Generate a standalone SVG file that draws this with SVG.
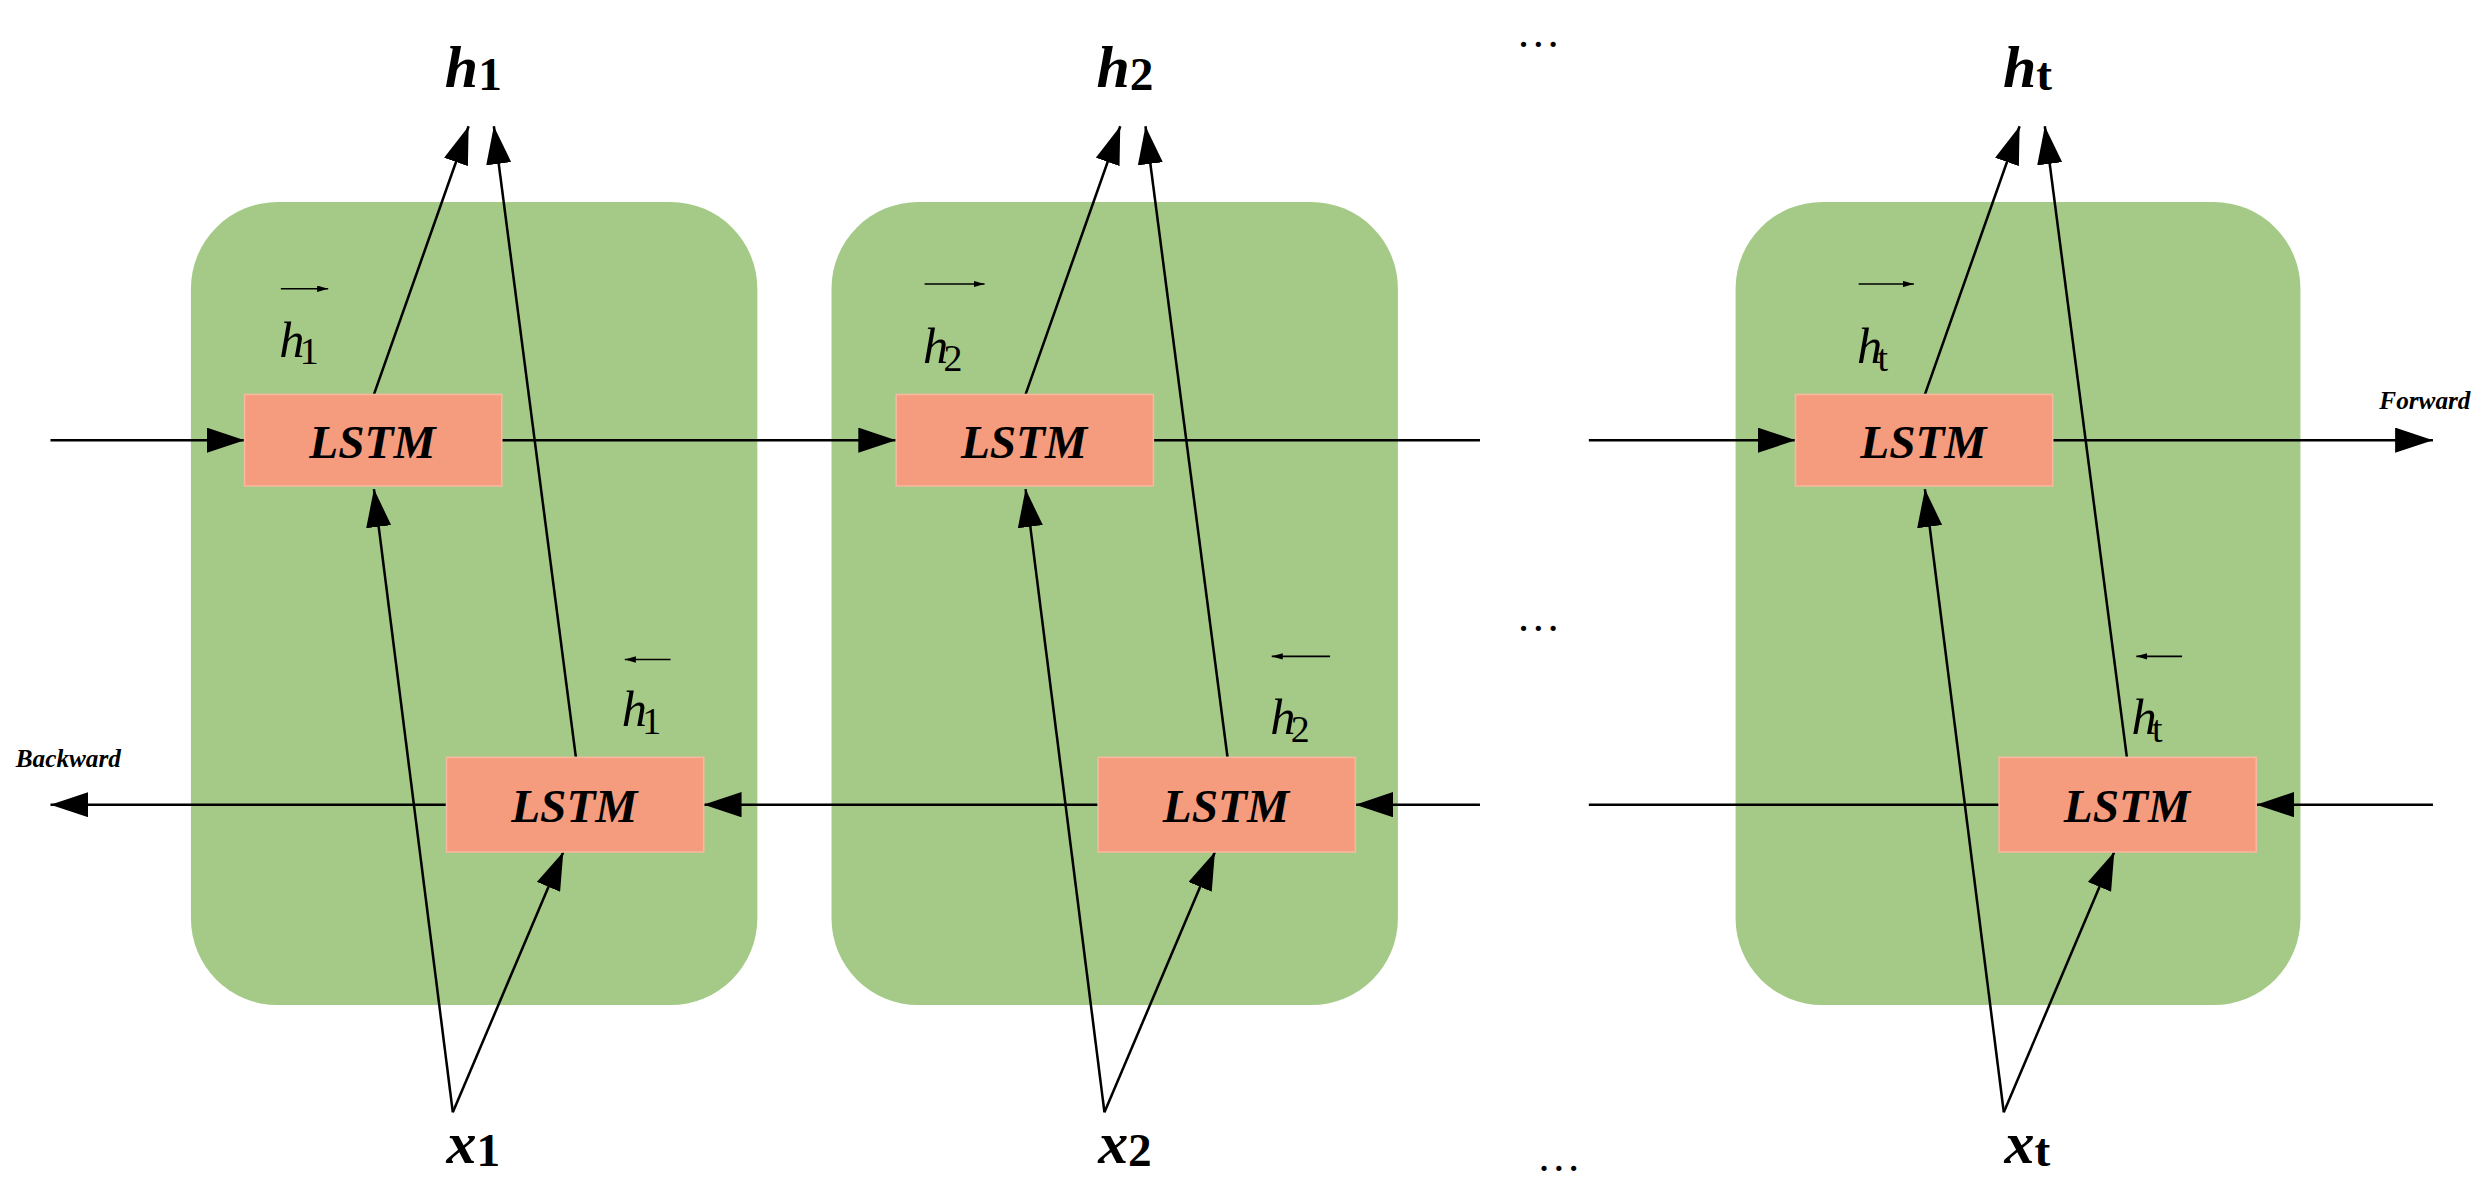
<svg xmlns="http://www.w3.org/2000/svg" width="2474" height="1185" viewBox="0 0 2474 1185">
<defs>
<marker id="ah" markerUnits="userSpaceOnUse" markerWidth="24" markerHeight="16" viewBox="0 0 24 16" refX="24" refY="8" orient="auto"><path d="M0,0 L24,8 L0,16 Z" fill="#000"/></marker>
<marker id="sah" markerUnits="userSpaceOnUse" markerWidth="7" markerHeight="4" viewBox="0 0 7 4" refX="7" refY="2" orient="auto"><path d="M0,0 L7,2 L0,4 Z" fill="#000"/></marker>
<style>
.cell{fill:#a5ca87}
.lstm{fill:#f59c7e;stroke:#f7b7a0;stroke-width:1}
.lt{font-family:"Liberation Serif",serif;font-weight:bold;font-style:italic;font-size:30px;text-anchor:middle}
.big{font-family:"Liberation Serif",serif;font-weight:bold;font-style:italic;font-size:38px;text-anchor:middle}
.sub{font-family:"Liberation Serif",serif;font-weight:bold;font-style:normal;font-size:30px}
.hl{font-family:"Liberation Serif",serif;font-style:italic;font-size:32px}
.hs{font-family:"Liberation Serif",serif;font-style:normal;font-size:24px}
.sm{font-family:"Liberation Serif",serif;font-weight:bold;font-style:italic;font-size:16px}
.dots{font-family:"Liberation Serif",serif;font-size:28px;text-anchor:middle}
.ln{stroke:#000;stroke-width:1.6;fill:none}
.a{marker-end:url(#ah)}
.sl{stroke:#000;stroke-width:1;marker-end:url(#sah)}
</style>
</defs>
<rect width="2474" height="1185" fill="#fff"/>
<g transform="scale(1.5778)">
<g id="cells">
<rect class="cell" x="121" y="128" width="359" height="509" rx="55"/>
<rect class="cell" x="527" y="128" width="359" height="509" rx="55"/>
<rect class="cell" x="1100" y="128" width="358" height="509" rx="55"/>
</g>
<g id="connectors">
<line class="ln a" x1="32" y1="279" x2="155" y2="279"/>
<line class="ln a" x1="318" y1="279" x2="568" y2="279"/>
<line class="ln" x1="731" y1="279" x2="938" y2="279"/>
<line class="ln a" x1="1007" y1="279" x2="1138" y2="279"/>
<line class="ln a" x1="1301" y1="279" x2="1542" y2="279"/>
<line class="ln a" x1="283" y1="510" x2="32" y2="510"/>
<line class="ln a" x1="696" y1="510" x2="446" y2="510"/>
<line class="ln a" x1="938" y1="510" x2="859" y2="510"/>
<line class="ln" x1="1267" y1="510" x2="1007" y2="510"/>
<line class="ln a" x1="1542" y1="510" x2="1430" y2="510"/>
<g id="c1">
<line class="ln a" x1="237" y1="250" x2="297" y2="80"/>
<line class="ln a" x1="365" y1="480" x2="313" y2="80"/>
<line class="ln a" x1="287" y1="705" x2="237" y2="310"/>
<line class="ln a" x1="287" y1="705" x2="357" y2="540"/>
</g>
<g id="c2">
<line class="ln a" x1="650" y1="250" x2="710" y2="80"/>
<line class="ln a" x1="778" y1="480" x2="726" y2="80"/>
<line class="ln a" x1="700" y1="705" x2="650" y2="310"/>
<line class="ln a" x1="700" y1="705" x2="770" y2="540"/>
</g>
<g id="c3">
<line class="ln a" x1="1220" y1="250" x2="1280" y2="80"/>
<line class="ln a" x1="1348" y1="480" x2="1296" y2="80"/>
<line class="ln a" x1="1270" y1="705" x2="1220" y2="310"/>
<line class="ln a" x1="1270" y1="705" x2="1340" y2="540"/>
</g>
</g>
<g id="lstm-f1"><rect class="lstm" x="155" y="250" width="163" height="58"/><text class="lt" x="236" y="290">LSTM</text></g>
<g id="lstm-f2"><rect class="lstm" x="568" y="250" width="163" height="58"/><text class="lt" x="649" y="290">LSTM</text></g>
<g id="lstm-f3"><rect class="lstm" x="1138" y="250" width="163" height="58"/><text class="lt" x="1219" y="290">LSTM</text></g>
<g id="lstm-b1"><rect class="lstm" x="283" y="480" width="163" height="60"/><text class="lt" x="364" y="521">LSTM</text></g>
<g id="lstm-b2"><rect class="lstm" x="696" y="480" width="163" height="60"/><text class="lt" x="777" y="521">LSTM</text></g>
<g id="lstm-b3"><rect class="lstm" x="1267" y="480" width="163" height="60"/><text class="lt" x="1348" y="521">LSTM</text></g>
<g id="labels">
<text class="big" x="300" y="55">h<tspan class="sub" dy="2">1</tspan></text>
<text class="big" x="713" y="55">h<tspan class="sub" dy="2">2</tspan></text>
<text class="big" x="1285" y="55">h<tspan class="sub" dy="2" font-style="italic">t</tspan></text>
<text class="big" x="300" y="737">x<tspan class="sub" dy="2">1</tspan></text>
<text class="big" x="713" y="737">x<tspan class="sub" dy="2">2</tspan></text>
<text class="big" x="1285" y="737">x<tspan class="sub" dy="2" font-style="italic">t</tspan></text>
<text class="dots" x="975" y="30">…</text>
<text class="dots" x="975" y="400">…</text>
<text class="dots" x="988" y="742">…</text>
<text class="sm" x="1508" y="259">Forward</text>
<text class="sm" x="10" y="486">Backward</text>
</g>
<g id="hlabels">
<text class="hl" x="177" y="226">h<tspan class="hs" dx="-3" dy="5">1</tspan></text>
<line class="sl" x1="178" y1="183" x2="208" y2="183"/>
<text class="hl" x="585" y="230">h<tspan class="hs" dx="-3" dy="5">2</tspan></text>
<line class="sl" x1="586" y1="180" x2="624" y2="180"/>
<text class="hl" x="1177" y="230">h<tspan class="hs" dx="-3" dy="5" font-style="italic">t</tspan></text>
<line class="sl" x1="1178" y1="180" x2="1213" y2="180"/>
<text class="hl" x="394" y="460">h<tspan class="hs" dx="-3" dy="5">1</tspan></text>
<line class="sl" x1="425" y1="418" x2="396" y2="418"/>
<text class="hl" x="805" y="465">h<tspan class="hs" dx="-3" dy="5">2</tspan></text>
<line class="sl" x1="843" y1="416" x2="806" y2="416"/>
<text class="hl" x="1351" y="465">h<tspan class="hs" dx="-3" dy="5" font-style="italic">t</tspan></text>
<line class="sl" x1="1383" y1="416" x2="1354" y2="416"/>
</g>
</g>
</svg>
